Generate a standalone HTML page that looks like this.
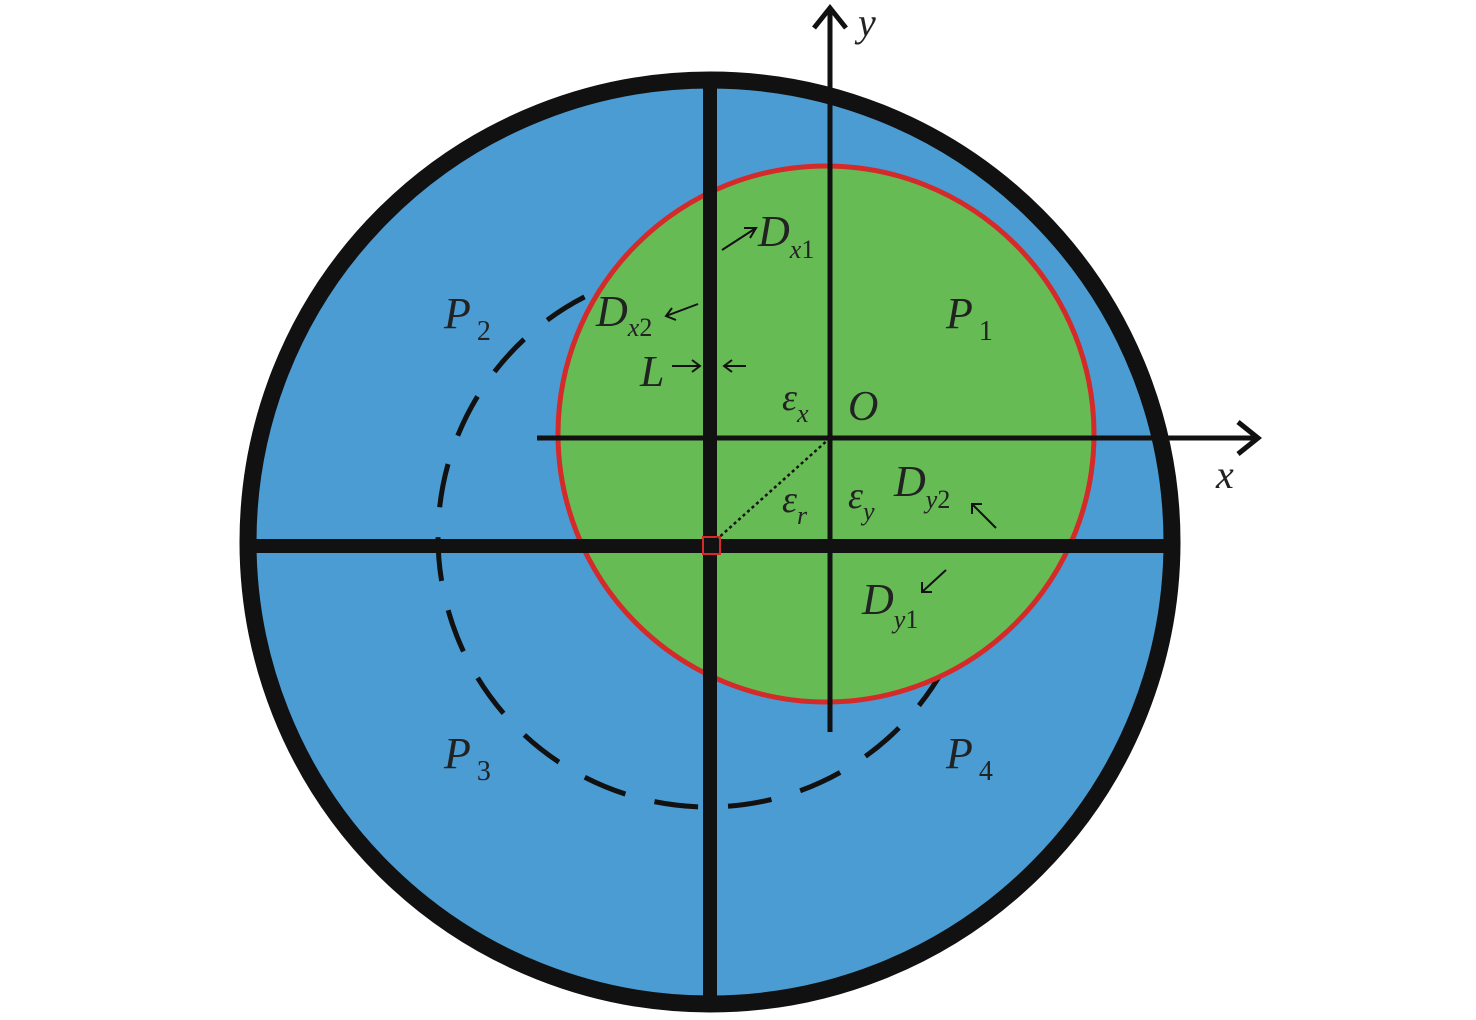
<!DOCTYPE html>
<html><head><meta charset="utf-8"><style>
html,body{margin:0;padding:0;background:#fff;width:1476px;height:1020px;overflow:hidden}
text{font-family:"Liberation Serif",serif;font-style:italic;fill:#222}
.n{font-style:normal}
</style></head><body>
<svg width="1476" height="1020" viewBox="0 0 1476 1020" xmlns="http://www.w3.org/2000/svg">
<circle cx="710" cy="542" r="463" fill="#4b9cd3"/>
<circle cx="708" cy="537" r="270" fill="none" stroke="#111" stroke-width="5" stroke-dasharray="44,30" stroke-dashoffset="10"/>
<circle cx="826" cy="434" r="268" fill="#66bb55" stroke="#d42a2a" stroke-width="5"/>
<line x1="710" y1="72" x2="710" y2="1004" stroke="#111" stroke-width="14"/>
<line x1="248" y1="546" x2="1172" y2="546" stroke="#111" stroke-width="14"/>
<circle cx="710" cy="542" r="462" fill="none" stroke="#111" stroke-width="17"/>
<line x1="830" y1="12" x2="830" y2="732" stroke="#111" stroke-width="5"/>
<line x1="537" y1="438" x2="1255" y2="438" stroke="#111" stroke-width="5"/>
<polyline points="814,28 830,8 846,28" fill="none" stroke="#111" stroke-width="5"/>
<polyline points="1238,422 1258,438 1238,454" fill="none" stroke="#111" stroke-width="5"/>
<rect x="703" y="537" width="17" height="17" fill="none" stroke="#d42a2a" stroke-width="2"/>
<line x1="830" y1="438" x2="716" y2="540" stroke="#111" stroke-width="2.5" stroke-dasharray="3,3"/>
<text x="444" y="328" font-size="44">P<tspan class="n" dx="6" dy="12" font-size="28">2</tspan></text>
<text x="946" y="328" font-size="44">P<tspan class="n" dx="6" dy="12" font-size="28">1</tspan></text>
<text x="444" y="768" font-size="44">P<tspan class="n" dx="6" dy="12" font-size="28">3</tspan></text>
<text x="946" y="768" font-size="44">P<tspan class="n" dx="6" dy="12" font-size="28">4</tspan></text>
<text x="858" y="36" font-size="40">y</text>
<text x="1216" y="488" font-size="40">x</text>
<text x="848" y="420" font-size="42">O</text>
<text x="782" y="410" font-size="38">ε<tspan dy="12" font-size="26">x</tspan></text>
<text x="782" y="512" font-size="38">ε<tspan dy="12" font-size="26">r</tspan></text>
<text x="848" y="508" font-size="38">ε<tspan dy="12" font-size="26">y</tspan></text>
<text x="758" y="246" font-size="44">D<tspan dy="12" font-size="26">x</tspan><tspan class="n" font-size="26">1</tspan></text>
<text x="596" y="326" font-size="44">D<tspan dy="10" font-size="26">x</tspan><tspan class="n" font-size="26">2</tspan></text>
<text x="640" y="386" font-size="44">L</text>
<text x="894" y="496" font-size="44">D<tspan dy="12" font-size="26">y</tspan><tspan class="n" font-size="26">2</tspan></text>
<text x="862" y="614" font-size="44">D<tspan dy="14" font-size="26">y</tspan><tspan class="n" font-size="26">1</tspan></text>
<g stroke="#111" stroke-width="2" fill="none">
<line x1="722" y1="250" x2="756" y2="228"/><polyline points="744,228 756,228 750,238"/>
<line x1="698" y1="304" x2="666" y2="316"/><polyline points="672,308 666,316 676,320"/>
<line x1="672" y1="366" x2="700" y2="366"/><polyline points="692,360 700,366 692,372"/>
<line x1="746" y1="366" x2="724" y2="366"/><polyline points="732,360 724,366 732,372"/>
<line x1="996" y1="528" x2="972" y2="504"/><polyline points="972,514 972,504 982,504"/>
<line x1="946" y1="570" x2="922" y2="592"/><polyline points="922,582 922,592 932,592"/>
</g>
</svg>
</body></html>
